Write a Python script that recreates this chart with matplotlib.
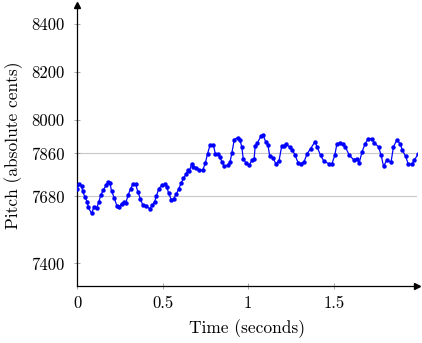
import numpy as np
from matplotlib import pyplot as plt

plt.rcParams['font.family'] = 'serif'
plt.rcParams['font.serif'] = ['cmr10', 'DejaVu Serif']
plt.rcParams['axes.formatter.use_mathtext'] = True

# pitch track (seconds, cents)
time_s = [0.000, 0.013, 0.027, 0.033, 0.047, 0.060, 0.066, 0.085, 0.099, 0.115,
          0.128, 0.138, 0.153, 0.169, 0.182, 0.192, 0.202, 0.217, 0.234, 0.246,
          0.260, 0.273, 0.285, 0.298, 0.314, 0.327, 0.343, 0.356, 0.370, 0.385,
          0.405, 0.424, 0.440, 0.453, 0.463, 0.478, 0.496, 0.512, 0.525, 0.535,
          0.551, 0.564, 0.580, 0.595, 0.609, 0.622, 0.638, 0.647, 0.657, 0.670,
          0.680, 0.696, 0.715, 0.734, 0.750, 0.763, 0.777, 0.797, 0.808, 0.822,
          0.835, 0.847, 0.860, 0.880, 0.894, 0.905, 0.919, 0.938, 0.952, 0.963,
          0.971, 0.987, 1.006, 1.022, 1.035, 1.041, 1.054, 1.074, 1.087, 1.103,
          1.116, 1.126, 1.145, 1.161, 1.180, 1.196, 1.209, 1.223, 1.242, 1.258,
          1.273, 1.292, 1.306, 1.326, 1.345, 1.365, 1.390, 1.403, 1.423, 1.442,
          1.471, 1.490, 1.506, 1.519, 1.539, 1.552, 1.568, 1.591, 1.616, 1.635,
          1.649, 1.665, 1.684, 1.703, 1.723, 1.738, 1.762, 1.777, 1.791, 1.810,
          1.835, 1.849, 1.868, 1.888, 1.901, 1.920, 1.936, 1.955, 1.971, 1.994]
pitch = [7713, 7730, 7722, 7702, 7676, 7657, 7634, 7609, 7636, 7633,
         7657, 7685, 7705, 7726, 7740, 7736, 7702, 7675, 7638, 7636,
         7650, 7657, 7652, 7685, 7713, 7733, 7730, 7698, 7670, 7643,
         7638, 7629, 7643, 7657, 7680, 7713, 7726, 7730, 7719, 7694,
         7666, 7670, 7689, 7713, 7736, 7755, 7775, 7789, 7786, 7817,
         7803, 7799, 7792, 7789, 7820, 7859, 7894, 7894, 7859, 7859,
         7845, 7824, 7806, 7810, 7824, 7862, 7918, 7926, 7915, 7887,
         7838, 7820, 7810, 7831, 7838, 7890, 7904, 7931, 7936, 7908,
         7894, 7848, 7842, 7817, 7828, 7890, 7890, 7898, 7887, 7873,
         7855, 7820, 7817, 7824, 7859, 7880, 7908, 7887, 7852, 7828,
         7817, 7817, 7852, 7901, 7904, 7898, 7887, 7852, 7834, 7838,
         7820, 7866, 7901, 7922, 7922, 7904, 7887, 7852, 7806, 7831,
         7824, 7887, 7915, 7901, 7873, 7848, 7814, 7814, 7831, 7859]

y_ticks = [7400, 7680, 7860, 8000, 8200, 8400]
grid_levels = [7680, 7860]
x_ticks = [0, 0.5, 1, 1.5]
x_tick_labels = ['0', '0.5', '1', '1.5']

fig = plt.figure(figsize=(4.22, 3.43), dpi=100)
ax = fig.add_axes([0.1825, 0.166, 0.805, 0.819])

for lvl in grid_levels:
    ax.axhline(lvl, color='#c8c8c8', lw=0.8, zorder=0)

ax.plot(time_s, pitch, color='blue', lw=0.9, marker='o', ms=3.2,
        markeredgewidth=0, zorder=3)

ax.set_xlim(0, 1.985)
ax.set_ylim(7305, 8480)
ax.set_yticks(y_ticks)
ax.set_yticklabels([str(v) for v in y_ticks])
ax.set_xticks(x_ticks)
ax.set_xticklabels(x_tick_labels)
ax.tick_params(direction='inout', length=4, width=0.6, color='#999999',
               labelsize=12)
ax.tick_params(axis='y', pad=7)
ax.tick_params(axis='x', pad=5)

for s in ['top', 'right']:
    ax.spines[s].set_visible(False)
for s in ['left', 'bottom']:
    ax.spines[s].set_linewidth(0.9)

# axis arrows
ax.plot(1, 0, marker='>', color='black', ms=4, transform=ax.transAxes, clip_on=False)
ax.plot(0, 1, marker='^', color='black', ms=4, transform=ax.transAxes, clip_on=False)

ax.set_xlabel('Time (seconds)', fontsize=12.5)
ax.set_ylabel('Pitch (absolute cents)', fontsize=12.5)
ax.xaxis.set_label_coords(0.5, -0.118)
ax.yaxis.set_label_coords(-0.159, 0.5)

fig.savefig('out.png', dpi=100)
